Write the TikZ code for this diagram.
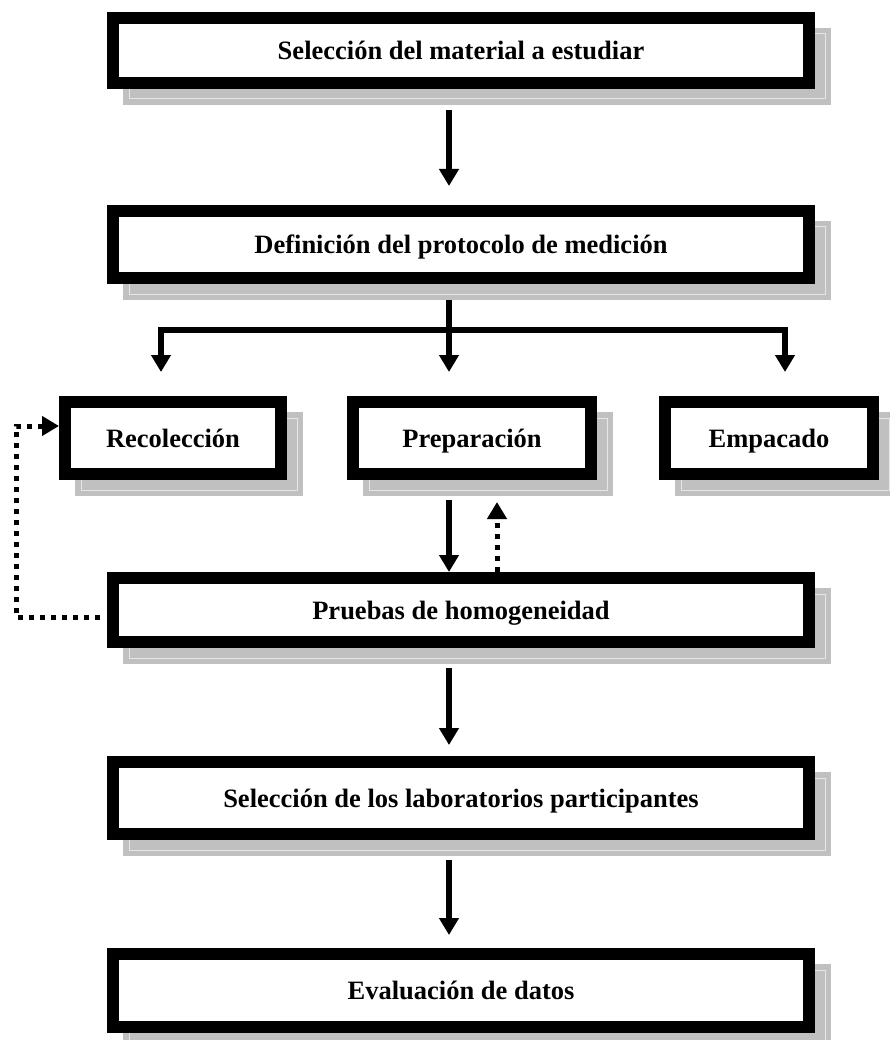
\documentclass[tikz,border=0pt]{standalone}
\usepackage{fontspec}
\setmainfont{Liberation Serif}
\usetikzlibrary{arrows.meta,calc}
\definecolor{shgray}{HTML}{C0C0C0}
\definecolor{shline}{HTML}{E6E6E6}
\tikzset{
  box/.style={rectangle, draw=black, line width=12pt, fill=white, inner sep=0pt, outer sep=0pt,
    font=\fontsize{26.5}{30}\selectfont\bfseries, text=black, text height=18pt, text depth=0pt,
    preaction={fill=shgray, draw=shgray, line width=12pt, transform canvas={shift={(16pt,-16pt)}}},
    preaction={draw=shline, line width=1pt, transform canvas={shift={(16pt,-16pt)}}}},
  arr/.style={line width=5.5pt, draw=black, -{Triangle[width=19pt,length=17pt]}},
  dotarr/.style={line width=5pt, draw=black, dash pattern=on 5pt off 6pt, -{Triangle[width=19pt,length=17pt]}}
}
\begin{document}
\begin{tikzpicture}[x=1pt,y=-1pt]
\fill[white] (0,0) rectangle (889,1040);
\useasboundingbox (0,0) rectangle (889,1040);
\node[box, minimum width=696pt, minimum height=65pt] (b1) at (461,50.5) {Selección del material a estudiar};
\node[box, minimum width=696pt, minimum height=67pt] (b2) at (461,244.5) {Definición del protocolo de medición};
\node[box, minimum width=216pt, minimum height=72pt] (rec) at (173,438) {Recolección};
\node[box, minimum width=238pt, minimum height=72pt] (prep) at (472,438) {Preparación};
\node[box, minimum width=208pt, minimum height=72pt] (emp) at (769,438) {Empacado};
\node[box, minimum width=696pt, minimum height=64pt] (prueb) at (461,610) {Pruebas de homogeneidad};
\node[box, minimum width=696pt, minimum height=72pt] (labs) at (461,798) {Selección de los laboratorios participantes};
\node[box, minimum width=696pt, minimum height=73pt] (eval) at (461,990.5) {Evaluación de datos};
% connectors
\draw[arr, shorten <=27pt, shorten >=25pt] ([xshift=-12pt]b1.south) -- ([xshift=-12pt]b2.north);
\coordinate (bl) at (161,330);
\coordinate (bR) at (785,330);
\draw[arr, shorten <=22pt, shorten >=30pt] ([xshift=-12pt]b2.south) -- ([xshift=-12pt]b2.south |- prep.north);
\draw[arr, shorten >=30pt] (bR) -- (bl) -- (bl |- rec.north);
\draw[arr, shorten >=30pt] (bl) -- (bR) -- (bR |- emp.north);
\draw[arr, shorten <=26pt, shorten >=6pt] ([xshift=-23pt]prep.south) -- ([xshift=-12pt]prueb.north);
\draw[dotarr, shorten <=6pt, shorten >=28pt] ([xshift=36pt]prueb.north) -- ([xshift=25pt]prep.south);
\coordinate (fbx) at (16,0);
\coordinate (recin) at ([yshift=12pt]rec.west);
\draw[dotarr, shorten <=13pt, shorten >=6pt] ([yshift=-7pt]prueb.west) -| (fbx |- recin) -- (recin);
\draw[arr, shorten <=26pt, shorten >=17pt] ([xshift=-12pt]prueb.south) -- ([xshift=-12pt]labs.north);
\draw[arr, shorten <=26pt, shorten >=19pt] ([xshift=-12pt]labs.south) -- ([xshift=-12pt]eval.north);
\end{tikzpicture}
\end{document}
